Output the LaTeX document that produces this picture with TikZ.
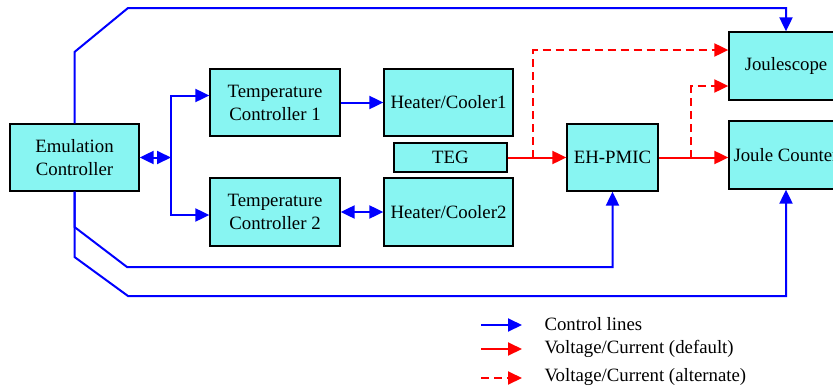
\documentclass[tikz,border=0pt]{standalone}
\usepackage{fontspec}
\setmainfont{Liberation Serif}
\newfontfamily\diagfont{Liberation Serif}
\usepackage{tikz}
\usetikzlibrary{arrows.meta,positioning,calc}
\definecolor{boxcyan}{RGB}{136,245,242}
\definecolor{ctrlblue}{RGB}{0,0,255}
\definecolor{voltred}{RGB}{255,0,0}

\begin{document}
\begin{tikzpicture}[x=1pt, y=-1pt,
    every node/.style={font=\diagfont\fontsize{18.8}{23}\selectfont},
    block/.style={draw, fill=boxcyan, line width=1.3pt, align=center, inner sep=1pt},
    ctrl/.style={draw=ctrlblue, line width=2pt},
    volt/.style={draw=voltred, line width=2pt},
    voltalt/.style={volt, dash pattern=on 8pt off 5pt},
    >={Triangle[length=14pt,width=13pt]},
]
    \useasboundingbox (0,0) rectangle (833,391);
    \clip (0,0) rectangle (833,391);

    \node[block, minimum width=129pt, minimum height=67pt] (emu) at (74.5,157.5) {Emulation\\Controller};
    \node[block, minimum width=130pt, minimum height=67pt] (tc1) at (275,102.5) {Temperature\\Controller 1};
    \node[block, minimum width=130pt, minimum height=68pt] (tc2) at (275,212) {Temperature\\Controller 2};
    \node[block, minimum width=129pt, minimum height=67pt] (hc1) at (448.5,102.5) {Heater/Cooler1};
    \node[block, minimum width=113pt, minimum height=29pt] (teg) at (450.5,157.5) {TEG};
    \node[block, minimum width=129pt, minimum height=68pt] (hc2) at (448.5,212) {Heater/Cooler2};
    \node[block, minimum width=91pt, minimum height=67pt] (pmic) at (612.5,157.5) {EH-PMIC};
    \node[block, minimum width=114pt, minimum height=68pt] (jscope) at (786,66) {Joulescope};
    \node[block, minimum width=114pt, minimum height=68pt] (jcount) at (786,155) {Joule Counter};

    \coordinate (fork) at (171,157.5);
    \draw[ctrl, <->] (emu.east) -- (fork);
    \draw[ctrl, ->] (fork) |- ([yshift=7pt]tc1.west);
    \draw[ctrl, ->] (fork) |- ([yshift=-3pt]tc2.west);
    \draw[ctrl, ->] (tc1.east) -- (tc1.east -| hc1.west);
    \draw[ctrl, <->] (tc2.east) -- (tc2.east -| hc2.west);

    \draw[ctrl, ->] (emu.north) -- (74.5,52) -- (128,8) -| (jscope.north);
    \draw[ctrl, ->] (emu.south) -- (74.5,227) -- (127,267) -| (pmic.south);
    \draw[ctrl, ->] (emu.south) -- (74.5,257) -- (128,296) -| (jcount.south);

    \coordinate (tap1) at (533,157.5);
    \coordinate (tap2) at (691,157.5);
    \draw[volt, ->] (teg.east) -- (pmic.west);
    \draw[volt, ->] (pmic.east) -- (pmic.east -| jcount.west);
    \draw[voltalt, ->] (tap1) |- ([yshift=16pt]jscope.west);
    \draw[voltalt, ->] (tap2) |- ([yshift=-20pt]jscope.west);

    \node[anchor=west] (lg1) at (541,324) {Control lines};
    \node[anchor=west] (lg2) at (541,349) {Voltage/Current (default)};
    \node[anchor=west] (lg3) at (541,377) {Voltage/Current (alternate)};
    \coordinate (k1) at (481,325);
    \coordinate (k2) at (481,349);
    \coordinate (k3) at (481,378);
    \draw[ctrl, ->] (k1) -- (k1 -| 522,0);
    \draw[volt, ->] (k2) -- (k2 -| 522,0);
    \draw[voltalt, ->] (k3) -- (k3 -| 522,0);
\end{tikzpicture}
\end{document}
